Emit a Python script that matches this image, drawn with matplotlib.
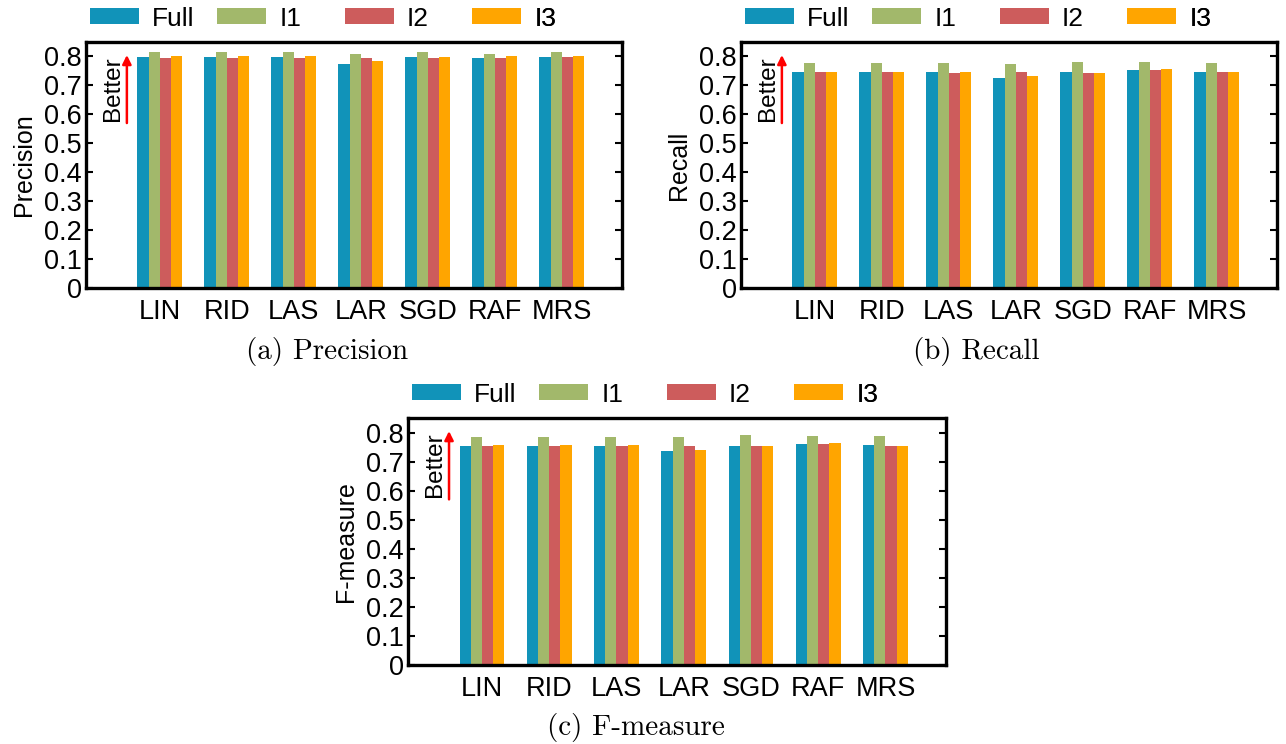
import matplotlib
matplotlib.use('Agg')
import matplotlib.pyplot as plt
import numpy as np
from matplotlib.patches import Patch

plt.rcParams['font.family'] = ['Liberation Sans', 'DejaVu Sans']

models = ['LIN', 'RID', 'LAS', 'LAR', 'SGD', 'RAF', 'MRS']
series_names = ['Full', 'I1', 'I2', 'I3']
colors = ['#1193B9', '#A2B86B', '#CD5C5C', '#FFA500']

precision_full = [0.797, 0.797, 0.797, 0.774, 0.797, 0.796, 0.797]
precision_i1 = [0.815, 0.815, 0.815, 0.809, 0.816, 0.810, 0.816]
precision_i2 = [0.796, 0.796, 0.795, 0.795, 0.795, 0.793, 0.797]
precision_i3 = [0.802, 0.802, 0.802, 0.786, 0.799, 0.802, 0.802]

recall_full = [0.745, 0.745, 0.745, 0.726, 0.745, 0.753, 0.748]
recall_i1 = [0.777, 0.777, 0.777, 0.775, 0.781, 0.780, 0.778]
recall_i2 = [0.745, 0.745, 0.744, 0.745, 0.744, 0.753, 0.748]
recall_i3 = [0.747, 0.747, 0.748, 0.733, 0.744, 0.755, 0.747]

fmeasure_full = [0.755, 0.755, 0.755, 0.735, 0.754, 0.762, 0.757]
fmeasure_i1 = [0.786, 0.786, 0.786, 0.783, 0.790, 0.788, 0.787]
fmeasure_i2 = [0.754, 0.754, 0.752, 0.754, 0.753, 0.761, 0.755]
fmeasure_i3 = [0.757, 0.757, 0.757, 0.741, 0.754, 0.764, 0.755]

yticks = [0, 0.1, 0.2, 0.3, 0.4, 0.5, 0.6, 0.7, 0.8]
ytick_labels = ['0', '0.1', '0.2', '0.3', '0.4', '0.5', '0.6', '0.7', '0.8']

W, H = 1286, 744
fig = plt.figure(figsize=(W / 100, H / 100), dpi=100)


def px_axes(left, top, right, bottom):
    return fig.add_axes([left / W, 1 - bottom / H, (right - left) / W, (bottom - top) / H])


def draw_panel(ax, series, ylabel, caption, cap_x, cap_y):
    x = np.arange(len(models))
    bw = 0.166
    for i, (vals, name, c) in enumerate(zip(series, series_names, colors)):
        ax.bar(x + (i - 1.5) * bw, vals, width=bw, color=c, label=name,
               edgecolor='none')

    ax.set_xlim(-1.1, 6.9)
    ax.set_ylim(0, 0.85)
    ax.set_xticks(x)
    ax.set_xticklabels(models, fontsize=19.5)
    ax.set_yticks(yticks)
    ax.set_yticklabels(ytick_labels, fontsize=19.5)
    ax.tick_params(axis='x', length=0, pad=8)
    ax.tick_params(axis='y', direction='in', length=5, width=1.5, pad=3,
                   right=True, left=True)
    for s in ax.spines.values():
        s.set_linewidth(2.4)
    ax.set_ylabel(ylabel, fontsize=18, labelpad=6)

    # "Better" arrow
    ax.annotate('', xy=(-0.49, 0.805), xytext=(-0.49, 0.57),
                arrowprops=dict(arrowstyle='-|>', color='red', lw=1.8,
                                mutation_scale=13, shrinkA=0, shrinkB=0))
    ax.text(-0.70, 0.69, 'Better', rotation=90, ha='center', va='center',
            fontsize=17.5)

    # legend: four evenly spaced entries above the frame
    width_px = ax.get_position().width * W
    height_px = ax.get_position().height * H
    for i, (name, c) in enumerate(zip(series_names, colors)):
        leg = ax.legend(handles=[Patch(facecolor=c, edgecolor='none', label=name)],
                        loc='center left',
                        bbox_to_anchor=((4 + i * 127.3) / width_px, 1 + 23.5 / height_px),
                        frameon=False, fontsize=19, borderpad=0, borderaxespad=0,
                        handlelength=1.86, handleheight=0.57, handletextpad=0.5)
        ax.add_artist(leg)

    fig.text(cap_x / W, 1 - cap_y / H, caption, ha='center', va='center',
             fontsize=21, family=['cmr10', 'DejaVu Serif'])


ax1 = px_axes(86, 42, 622, 288)
draw_panel(ax1, [precision_full, precision_i1, precision_i2, precision_i3],
           'Precision', '(a) Precision', 327, 352)

ax2 = px_axes(741, 42, 1277, 288)
draw_panel(ax2, [recall_full, recall_i1, recall_i2, recall_i3],
           'Recall', '(b) Recall', 976, 352)

ax3 = px_axes(408, 418, 946, 665)
draw_panel(ax3, [fmeasure_full, fmeasure_i1, fmeasure_i2, fmeasure_i3],
           'F-measure', '(c) F-measure', 636, 727)

fig.savefig('out.png', dpi=100)
